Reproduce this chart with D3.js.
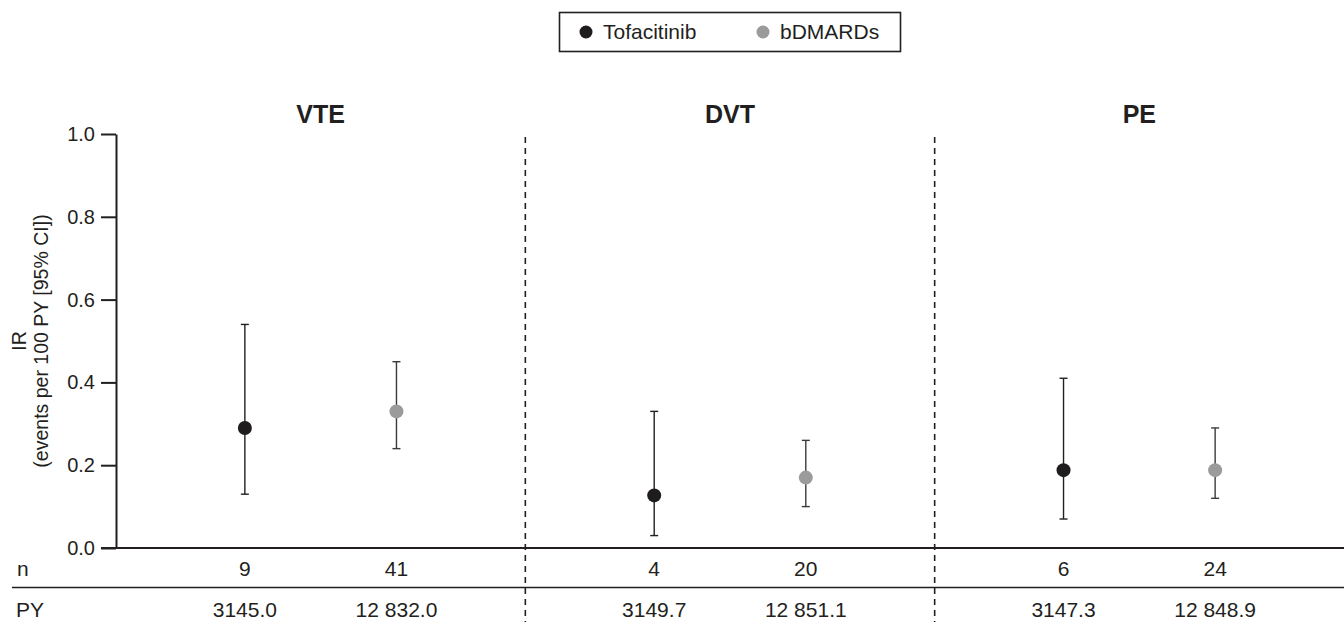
<!DOCTYPE html>
<html>
<head>
<meta charset="utf-8">
<script src="https://cdn.jsdelivr.net/npm/d3@7"></script>
<style>
  body { margin: 0; background: #fff; }
  svg { display: block; font-family: "Liberation Sans", Arial, sans-serif; }
</style>
</head>
<body>
<div id="container"></div>
<script>
// data
const outcomes = ["VTE", "DVT", "PE"];
const treatments = ["Tofacitinib", "bDMARDs"];
const irValues = [[0.29, 0.33], [0.127, 0.17], [0.188, 0.188]];
const ciLower = [[0.13, 0.24], [0.03, 0.10], [0.07, 0.12]];
const ciUpper = [[0.54, 0.45], [0.33, 0.26], [0.41, 0.29]];
const nEvents = [["9", "41"], ["4", "20"], ["6", "24"]];
const personYears = [["3145.0", "12 832.0"], ["3149.7", "12 851.1"], ["3147.3", "12 848.9"]];
const yTicks = [0, 0.2, 0.4, 0.6, 0.8, 1.0];

const W = 1344, H = 622;
const ink = "#231f20";
const colors = { "Tofacitinib": "#1e1c1d", "bDMARDs": "#9b9b9b" };
const barColors = { "Tofacitinib": "#231f20", "bDMARDs": "#3a3a3a" };
const tableFont = "21px";

const svg = d3.select("#container")
    .append("svg")
    .attr("width", W)
    .attr("height", H);

// scales
const x = d3.scaleBand().domain(outcomes).range([116, W]).paddingInner(0).paddingOuter(0);
const xInner = d3.scalePoint().domain(treatments).range([0, x.bandwidth()]).padding(0.85);
const y = d3.scaleLinear().domain([0, 1]).range([548, 134]);

// rows of points
const rows = [];
outcomes.forEach((o, i) => {
    treatments.forEach((t, j) => {
        rows.push({
            outcome: o, treatment: t,
            ir: irValues[i][j], lo: ciLower[i][j], hi: ciUpper[i][j],
            n: nEvents[i][j], py: personYears[i][j]
        });
    });
});
const cx = d => x(d.outcome) + xInner(d.treatment);

// y axis
const yAxis = d3.axisLeft(y)
    .tickValues(yTicks)
    .tickFormat(d3.format(".1f"))
    .tickSizeInner(15)
    .tickSizeOuter(0)
    .tickPadding(6);

const gy = svg.append("g")
    .attr("transform", "translate(116,0)")
    .call(yAxis);
gy.select(".domain").attr("stroke", ink).attr("stroke-width", 2);
gy.selectAll(".tick line").attr("stroke", ink).attr("stroke-width", 2);
gy.selectAll(".tick text")
    .attr("fill", ink)
    .style("font-size", "20px");

// y axis title
const yt = svg.append("text")
    .attr("transform", "translate(0," + y(0.5) + ") rotate(-90)")
    .attr("text-anchor", "middle")
    .attr("fill", ink)
    .style("font-size", "19.5px");
yt.append("tspan").attr("x", 0).attr("y", 26).text("IR");
yt.append("tspan").attr("x", 0).attr("y", 48).text("(events per 100 PY [95% CI])");

// x axis line (also the top of the table)
svg.append("line")
    .attr("x1", 101).attr("x2", W)
    .attr("y1", y(0)).attr("y2", y(0))
    .attr("stroke", ink).attr("stroke-width", 2);

// table separator
svg.append("line")
    .attr("x1", 12).attr("x2", W)
    .attr("y1", 587.5).attr("y2", 587.5)
    .attr("stroke", ink).attr("stroke-width", 1.6);

// dashed panel separators
svg.selectAll("line.sep")
    .data(outcomes.slice(1))
    .enter()
    .append("line")
    .attr("class", "sep")
    .attr("x1", d => x(d)).attr("x2", d => x(d))
    .attr("y1", 137).attr("y2", H)
    .attr("stroke", ink)
    .attr("stroke-width", 1.6)
    .attr("stroke-dasharray", "6,5");

// panel titles
svg.selectAll("text.title")
    .data(outcomes)
    .enter()
    .append("text")
    .attr("class", "title")
    .attr("x", d => x(d) + x.bandwidth() / 2)
    .attr("y", 123)
    .attr("text-anchor", "middle")
    .attr("fill", ink)
    .style("font-size", "25px")
    .style("font-weight", "bold")
    .text(d => d);

// error bars
const capW = 4;
const eb = svg.selectAll("g.eb")
    .data(rows)
    .enter()
    .append("g")
    .attr("class", "eb")
    .attr("stroke", d => barColors[d.treatment])
    .attr("stroke-width", 1.4);
eb.append("line")
    .attr("x1", cx).attr("x2", cx)
    .attr("y1", d => y(d.lo)).attr("y2", d => y(d.hi));
eb.append("line")
    .attr("x1", d => cx(d) - capW).attr("x2", d => cx(d) + capW)
    .attr("y1", d => y(d.hi)).attr("y2", d => y(d.hi));
eb.append("line")
    .attr("x1", d => cx(d) - capW).attr("x2", d => cx(d) + capW)
    .attr("y1", d => y(d.lo)).attr("y2", d => y(d.lo));

// points
svg.selectAll("circle.pt")
    .data(rows)
    .enter()
    .append("circle")
    .attr("class", "pt")
    .attr("cx", cx)
    .attr("cy", d => y(d.ir))
    .attr("r", 7)
    .attr("fill", d => colors[d.treatment]);

// table rows
svg.append("text").attr("x", 17).attr("y", 576).attr("fill", ink).style("font-size", tableFont).text("n");
svg.append("text").attr("x", 16).attr("y", 617).attr("fill", ink).style("font-size", tableFont).text("PY");

svg.selectAll("text.n")
    .data(rows)
    .enter()
    .append("text")
    .attr("class", "n")
    .attr("x", cx)
    .attr("y", 576)
    .attr("text-anchor", "middle")
    .attr("fill", ink)
    .style("font-size", tableFont)
    .text(d => d.n);

svg.selectAll("text.py")
    .data(rows)
    .enter()
    .append("text")
    .attr("class", "py")
    .attr("x", cx)
    .attr("y", 617)
    .attr("text-anchor", "middle")
    .attr("fill", ink)
    .style("font-size", tableFont)
    .text(d => d.py);

// legend
const legend = svg.append("g");
legend.append("rect")
    .attr("x", 559.5).attr("y", 12.5)
    .attr("width", 341).attr("height", 39)
    .attr("fill", "none")
    .attr("stroke", ink)
    .attr("stroke-width", 1.6);
const legX = [586, 763];
treatments.forEach((t, i) => {
    legend.append("circle")
        .attr("cx", legX[i]).attr("cy", 32)
        .attr("r", 6.5)
        .attr("fill", colors[t]);
    legend.append("text")
        .attr("x", legX[i] + 17).attr("y", 39)
        .attr("fill", ink)
        .style("font-size", tableFont)
        .text(t);
});
</script>
</body>
</html>
